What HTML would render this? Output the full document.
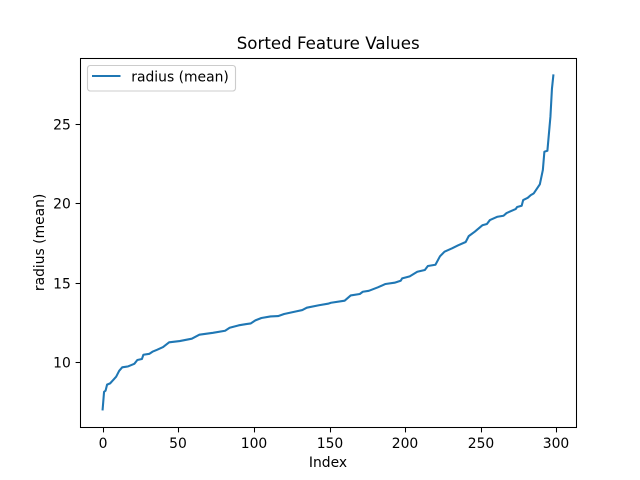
<!DOCTYPE html>
<html>
<head>
<meta charset="utf-8">
<title>Sorted Feature Values</title>
<style>
html,body{margin:0;padding:0;background:#fff;}
svg{display:block;}
text{font-family:"DejaVu Sans","Liberation Sans",sans-serif;fill:#000;}
</style>
</head>
<body>
<svg id="chart" xmlns="http://www.w3.org/2000/svg" width="640" height="480" viewBox="0 0 640 480">
<rect x="0" y="0" width="640" height="480" fill="#fff"/>
<g id="ticks"></g>
<polyline id="series" fill="none" stroke="#1f77b4" stroke-width="2.08" stroke-linejoin="round" stroke-linecap="butt"/>
<rect x="80.5" y="58.5" width="496" height="369" fill="none" stroke="#000" stroke-width="1.05"/>
<text x="328.2" y="49" font-size="16.67" text-anchor="middle">Sorted Feature Values</text>
<text x="328" y="467" font-size="13.89" text-anchor="middle">Index</text>
<text transform="translate(44,242.4) rotate(-90)" font-size="13.89" text-anchor="middle">radius (mean)</text>
<g>
<rect x="87.5" y="65.5" width="148" height="25.5" rx="2.8" ry="2.8" fill="#fff" fill-opacity="0.8" stroke="#ccc" stroke-width="1.11"/>
<line x1="92" y1="76" x2="120.5" y2="76" stroke="#1f77b4" stroke-width="2.08"/>
<text x="131.3" y="81.4" font-size="13.89">radius (mean)</text>
</g>
</svg>
<script>
const indices = [0,1,2,3,5,7,9,11,13,17,21,23,26,27,31,33,36,40,44,51,59,64,73,81,84,90,95,98,101,105,111,116,120,128,132,135,143,149,151,160,164,170,172,176,182,187,193,197,198,203,208,213,215,220,223,226,231,235,240,242,246,251,254,256,261,265,267,273,274,277,278,281,283,285,289,291,292,294,296,297,298];
const radiusMean = [6.98,8.15,8.22,8.6,8.68,8.89,9.1,9.47,9.69,9.75,9.91,10.15,10.21,10.48,10.54,10.67,10.79,10.96,11.26,11.34,11.49,11.74,11.86,11.99,12.18,12.33,12.41,12.45,12.64,12.79,12.89,12.91,13.04,13.21,13.29,13.44,13.59,13.69,13.75,13.88,14.21,14.3,14.44,14.5,14.72,14.93,15.01,15.13,15.28,15.41,15.7,15.81,16.06,16.14,16.67,16.96,17.17,17.36,17.57,17.94,18.22,18.62,18.7,18.95,19.16,19.22,19.39,19.64,19.77,19.85,20.21,20.35,20.52,20.63,21.2,22.1,23.25,23.31,25.45,27.2,28.11];
const xTickValues = [0,50,100,150,200,250,300];
const yTickValues = [10,15,20,25];

const plotLeft = 80, plotRight = 576, plotTop = 57.6, plotBottom = 427.2;
const svgNS = 'http://www.w3.org/2000/svg';

function extent(values) {
  const lo = Math.min.apply(null, values), hi = Math.max.apply(null, values);
  const pad = (hi - lo) * 0.05;
  return [lo - pad, hi + pad];
}
const xDomain = extent(indices);
const yDomain = extent(radiusMean);
function xScale(v) { return plotLeft + (v - xDomain[0]) / (xDomain[1] - xDomain[0]) * (plotRight - plotLeft); }
function yScale(v) { return plotBottom - (v - yDomain[0]) / (yDomain[1] - yDomain[0]) * (plotBottom - plotTop); }
function snap(p) { return Math.round(p) + 0.5; }

document.getElementById('series').setAttribute('points',
  indices.map(function (d, i) { return xScale(d).toFixed(2) + ',' + yScale(radiusMean[i]).toFixed(2); }).join(' '));

const tickGroup = document.getElementById('ticks');
xTickValues.forEach(function (v) {
  const x = snap(xScale(v));
  const tick = document.createElementNS(svgNS, 'line');
  
  
  tick.setAttribute('x1', x); tick.setAttribute('x2', x);
  tick.setAttribute('y1', 427.5); tick.setAttribute('y2', 432.4);
  tick.setAttribute('stroke', '#000'); tick.setAttribute('stroke-width', '1.05');
  tickGroup.appendChild(tick);
  const label = document.createElementNS(svgNS, 'text');
  
  
  label.setAttribute('x', x - 0.5); label.setAttribute('y', 448);
  label.setAttribute('font-size', '13.89');
  label.setAttribute('text-anchor', 'middle');
  label.textContent = String(v);
  tickGroup.appendChild(label);
});
yTickValues.forEach(function (v) {
  const y = snap(yScale(v));
  const tick = document.createElementNS(svgNS, 'line');
  
  
  tick.setAttribute('x1', 75.6); tick.setAttribute('x2', 80.5);
  tick.setAttribute('y1', y); tick.setAttribute('y2', y);
  tick.setAttribute('stroke', '#000'); tick.setAttribute('stroke-width', '1.05');
  tickGroup.appendChild(tick);
  const label = document.createElementNS(svgNS, 'text');
  
  
  label.setAttribute('x', 70.8); label.setAttribute('y', y + 5);
  label.setAttribute('font-size', '13.89');
  label.setAttribute('text-anchor', 'end');
  label.textContent = String(v);
  tickGroup.appendChild(label);
});
</script>
</body>
</html>
